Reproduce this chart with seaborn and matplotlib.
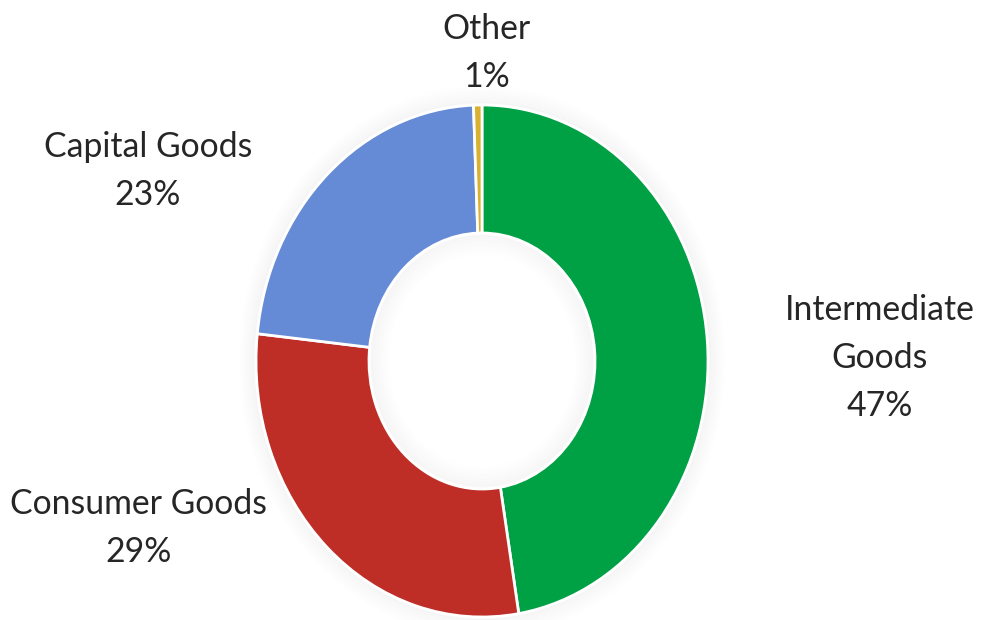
import matplotlib
matplotlib.use("Agg")
import matplotlib.pyplot as plt
import seaborn as sns
from matplotlib.patches import Ellipse

categories = ["Intermediate Goods", "Consumer Goods", "Capital Goods", "Other"]
values = [47.4, 29.3, 22.7, 0.6]
label_texts = ["Intermediate\nGoods", "Consumer Goods", "Capital Goods", "Other"]
colors = ["#00A045", "#BE2E27", "#658AD6", "#DAB030"]

sns.set_theme(style="white")
plt.rcParams['font.family'] = ['Lato', 'DejaVu Sans']

W, H = 983, 620
fig = plt.figure(figsize=(W / 100, H / 100), dpi=100)
ax = fig.add_axes([0, 0, 1, 1])

cx, cy = 482, 361   # pixel centre (from top)
rx, ry = 226, 256

# soft outer glow
n = 10
for i in range(n):
    s = 1.0 + 0.007 * (i + 1)
    ax.add_patch(Ellipse((0, 0), 2 * s, 2 * s, facecolor="none",
                         edgecolor=(0, 0, 0, 0.022 * (1 - i / n)), linewidth=2.2, zorder=0))

wedges, _ = ax.pie(values, colors=colors, startangle=90, counterclock=False,
                   radius=1.0,
                   wedgeprops=dict(width=0.5, edgecolor="white", linewidth=2))
# soft inner glow
for i in range(n):
    s = 0.5 - 0.008 * (i + 1)
    ax.add_patch(Ellipse((0, 0), 2 * s, 2 * s, facecolor="none",
                         edgecolor=(0, 0, 0, 0.02 * (1 - i / n)), linewidth=2.5, zorder=0))

ax.set_aspect('auto')
ax.set_xlim(-cx / rx, (W - cx) / rx)
ax.set_ylim(-(H - cy) / ry, cy / ry)
ax.axis('off')

pos = {
    "Intermediate Goods": (880, 358),
    "Consumer Goods": (139, 528),
    "Capital Goods": (148, 171),
    "Other": (487, 53),
}
for cat, lab, v in zip(categories, label_texts, values):
    x, y = pos[cat]
    fig.text(x / W, 1 - y / H, f"{lab}\n{round(v):.0f}%", ha="center", va="center",
             fontsize=24.3, color="#262626", linespacing=1.62)

fig.savefig("out.png", dpi=100)
